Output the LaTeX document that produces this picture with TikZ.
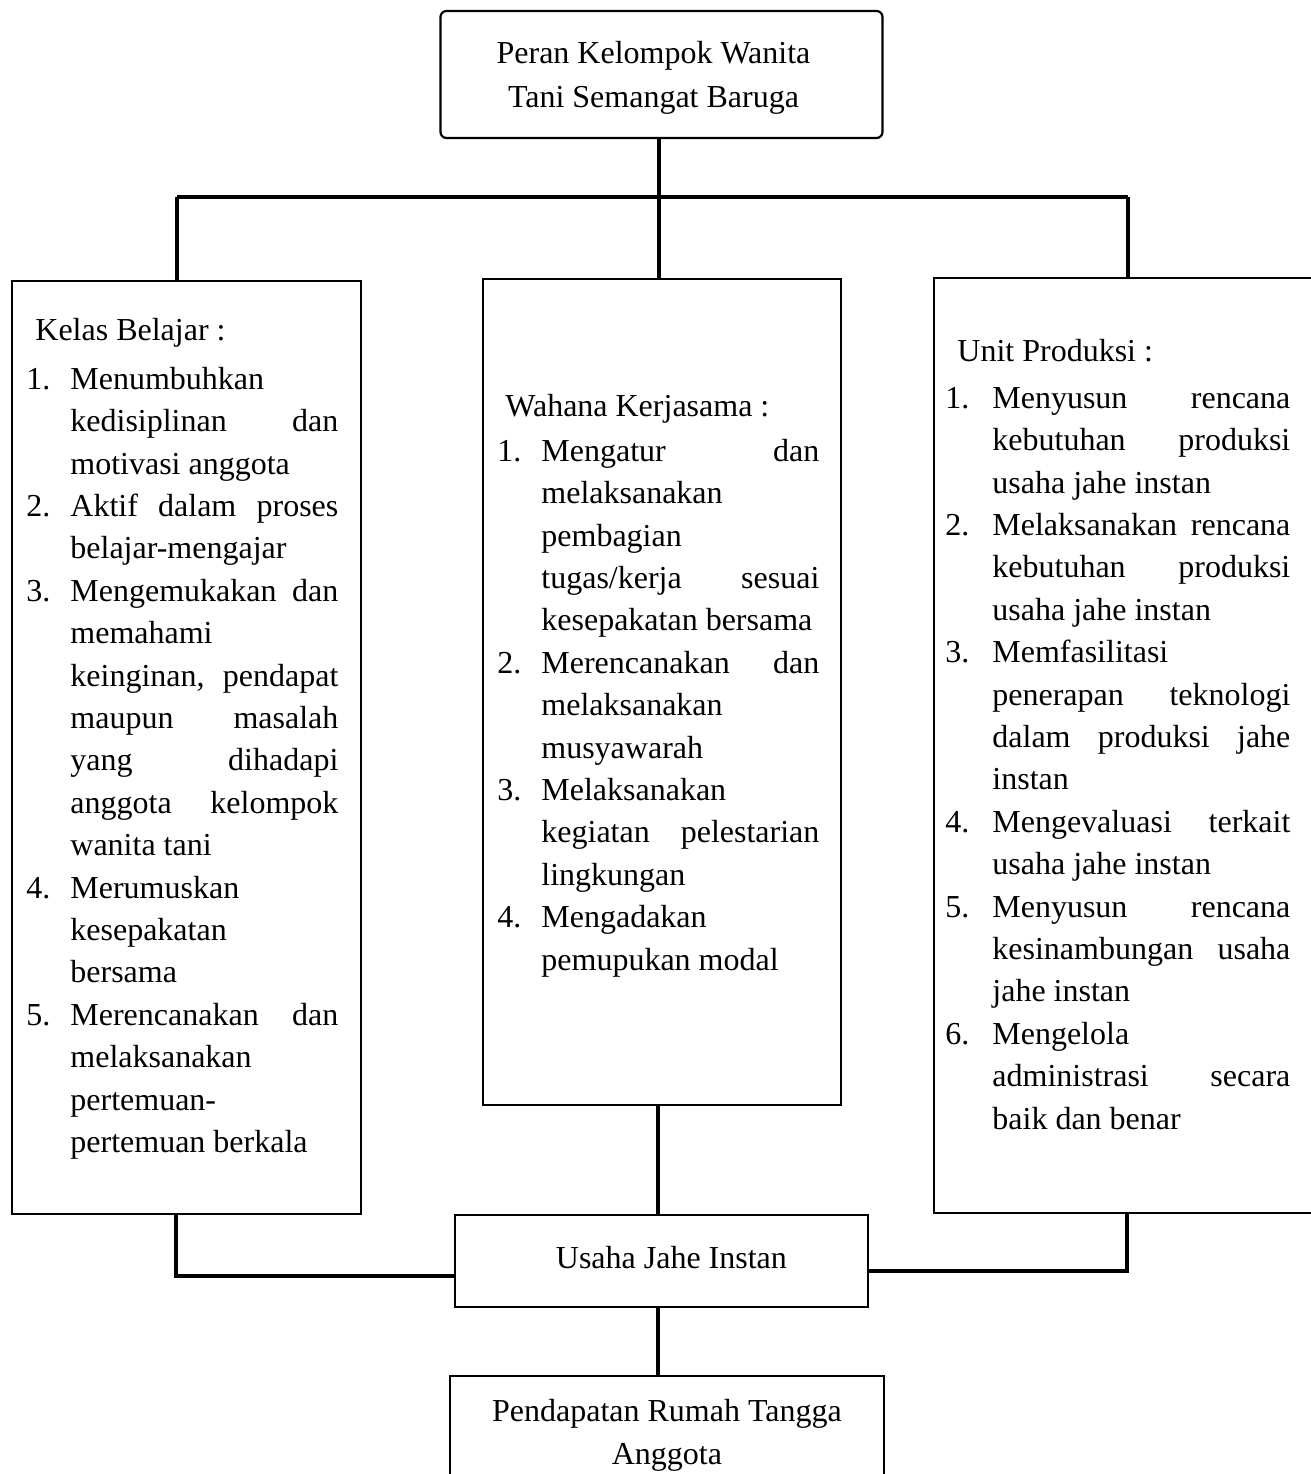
\documentclass[tikz,border=0pt]{standalone}
\usepackage{fontspec}
\setmainfont{Liberation Serif}
\newlength\numw
\newlength\txtw
\newcommand\LN[2]{\strut\makebox[\numw][l]{#1}\makebox[\txtw][s]{#2}}
\newcommand\LNr[2]{\strut\makebox[\numw][l]{#1}#2}
\newcommand\LJ[1]{\strut\hspace*{\numw}\makebox[\txtw][s]{#1}}
\newcommand\LR[1]{\strut\hspace*{\numw}#1}
\begin{document}
\begin{tikzpicture}[x=0.5pt,y=-0.5pt,
  every node/.style={font=\fontsize{16}{21.2}\selectfont},
  box/.style={draw, line width=1.2pt, inner sep=0pt, anchor=north west},
  rbox/.style={draw, line width=1.1pt, rounded corners=3pt, inner sep=0pt, align=center,
     font=\fontsize{16}{22}\selectfont},
  cbox/.style={draw, line width=1.2pt, inner sep=0pt, align=center, anchor=north west,
     font=\fontsize{16}{21.5}\selectfont},
  hdr/.style={anchor=base west, inner sep=0pt},
  lst/.style={anchor=north west, inner sep=0pt, align=left},
  conn/.style={line width=1.6pt}]
\useasboundingbox (0,0) rectangle (1311,1474);
\clip (0,0) rectangle (1311,1474);

% boxes
\node[rbox, minimum width=221pt, minimum height=63.5pt] (top) at (661.5,74.5)
  {\rule{0pt}{14pt}Peran Kelompok Wanita\hspace*{8pt}\\Tani Semangat Baruga\hspace*{8pt}};
\node[box, minimum width=174.5pt, minimum height=466.75pt] (kelas) at (11,279.5) {};
\node[box, minimum width=179pt, minimum height=413pt] (mid) at (482,278) {};
\node[box, minimum width=200pt, minimum height=467.75pt] (unit) at (932.5,276.5) {};
\node[cbox, minimum width=206.75pt, minimum height=46pt] (usaha) at (453.5,1214)
  {\hspace*{10pt}\raisebox{3.5pt}{Usaha Jahe Instan}};
\node[cbox, minimum width=217.25pt, minimum height=59.5pt] (pend) at (448.5,1375)
  {Pendapatan Rumah Tangga\\Anggota};

% connectors
\coordinate (cx) at (659,0);
\coordinate (cy) at (658,0);
\coordinate (busL) at (177,197);
\coordinate (busR) at (1128,197);
\draw[conn] (top.south -| cx) -- (mid.north -| cx);
\draw[conn] (busL) -- (busR);
\draw[conn] (busL) -- (busL |- kelas.north);
\draw[conn] (busR) -- (busR |- unit.north);
\coordinate (jL) at (176,1276);
\coordinate (jR) at (1127,1271);
\draw[conn] (jL |- kelas.south) -- (jL) -- (jL -| usaha.west);
\draw[conn] (jR |- unit.south) -- (jR) -- (jR -| usaha.east);
\draw[conn] (mid.south -| cy) -- (usaha.north -| cy);
\draw[conn] (usaha.south -| cy) -- (pend.north -| cy);

% headers
\node[hdr] (hk) at (35,340) {Kelas Belajar :};
\node[hdr] (hw) at (505,416) {Wahana Kerjasama :};
\node[hdr] (hu) at (957,361) {Unit Produksi :};

% left list
\setlength\numw{22pt}\setlength\txtw{134pt}
\node[lst] (lk) at (26,359.3) {%
\LNr{1.}{Menumbuhkan}\\
\LJ{kedisiplinan dan}\\
\LR{motivasi anggota}\\
\LN{2.}{Aktif dalam proses}\\
\LR{belajar-mengajar}\\
\LN{3.}{Mengemukakan dan}\\
\LR{memahami}\\
\LJ{keinginan, pendapat}\\
\LJ{maupun masalah}\\
\LJ{yang dihadapi}\\
\LJ{anggota kelompok}\\
\LR{wanita tani}\\
\LNr{4.}{Merumuskan}\\
\LR{kesepakatan}\\
\LR{bersama}\\
\LN{5.}{Merencanakan dan}\\
\LR{melaksanakan}\\
\LR{pertemuan-}\\
\LR{pertemuan berkala}};

% middle list
\setlength\numw{22pt}\setlength\txtw{139pt}
\node[lst] (lw) at (497,431.3) {%
\LN{1.}{Mengatur dan}\\
\LR{melaksanakan}\\
\LR{pembagian}\\
\LJ{tugas/kerja sesuai}\\
\LR{kesepakatan bersama}\\
\LN{2.}{Merencanakan dan}\\
\LR{melaksanakan}\\
\LR{musyawarah}\\
\LNr{3.}{Melaksanakan}\\
\LJ{kegiatan pelestarian}\\
\LR{lingkungan}\\
\LNr{4.}{Mengadakan}\\
\LR{pemupukan modal}};

% right list
\setlength\numw{23.5pt}\setlength\txtw{149pt}
\node[lst] (lu) at (945,378.3) {%
\LN{1.}{Menyusun rencana}\\
\LJ{kebutuhan produksi}\\
\LR{usaha jahe instan}\\
\LN{2.}{Melaksanakan rencana}\\
\LJ{kebutuhan produksi}\\
\LR{usaha jahe instan}\\
\LNr{3.}{Memfasilitasi}\\
\LJ{penerapan teknologi}\\
\LJ{dalam produksi jahe}\\
\LR{instan}\\
\LN{4.}{Mengevaluasi terkait}\\
\LR{usaha jahe instan}\\
\LN{5.}{Menyusun rencana}\\
\LJ{kesinambungan usaha}\\
\LR{jahe instan}\\
\LNr{6.}{Mengelola}\\
\LJ{administrasi secara}\\
\LR{baik dan benar}};
\end{tikzpicture}
\end{document}
